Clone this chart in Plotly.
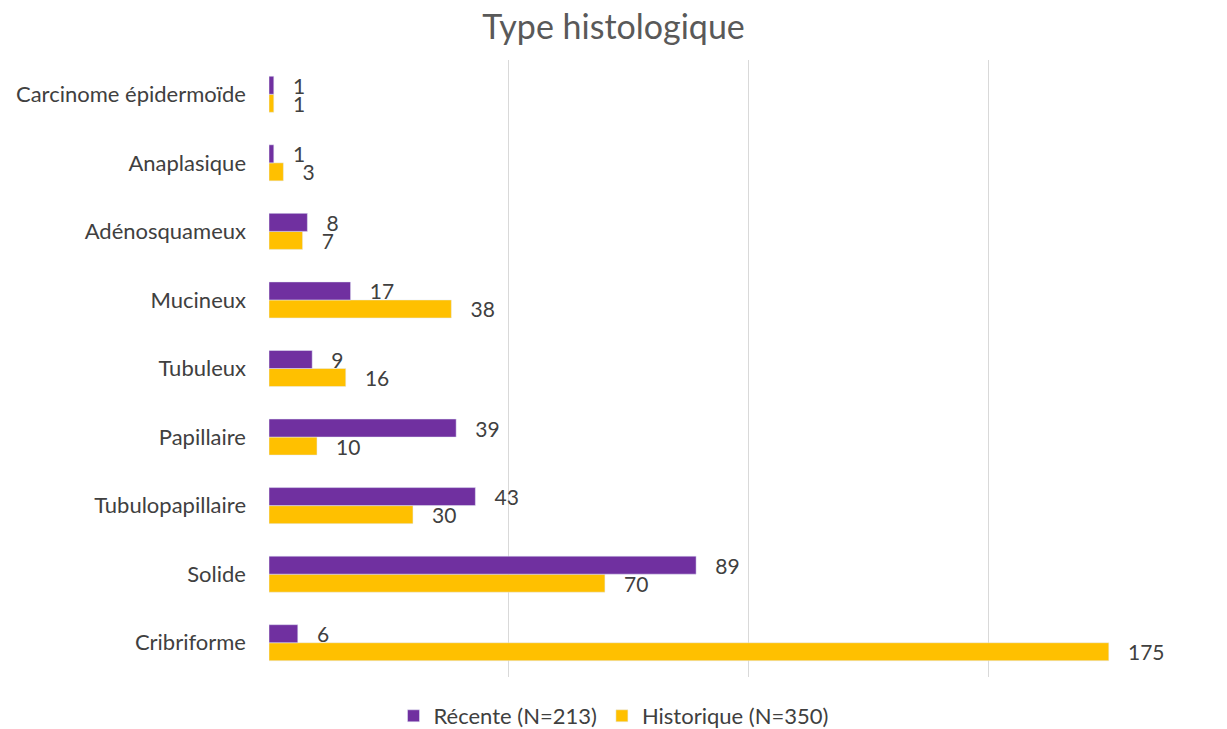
import plotly.graph_objects as go

categories = ["Cribriforme", "Solide", "Tubulopapillaire", "Papillaire", "Tubuleux",
              "Mucineux", "Adénosquameux", "Anaplasique", "Carcinome épidermoïde"]
recente = [6, 89, 43, 39, 9, 17, 8, 1, 1]
historique = [175, 70, 30, 10, 16, 38, 7, 3, 1]
series_names = ["Récente (N=213)", "Historique (N=350)"]
title = "Type histologique"

FONT = "Lato"
fig = go.Figure()
fig.add_trace(go.Bar(
    y=categories, x=historique, orientation="h", name=series_names[1],
    marker=dict(color="#FFC000"), legendrank=2,
    text=historique, texttemplate="   %{x}", textposition="outside",
    constraintext="none",
    textfont=dict(family=FONT, size=21, color="#404040"), cliponaxis=False,
))
fig.add_trace(go.Bar(
    y=categories, x=recente, orientation="h", name=series_names[0],
    marker=dict(color="#7030A0"), legendrank=1,
    text=recente, texttemplate="   %{x}", textposition="outside",
    constraintext="none",
    textfont=dict(family=FONT, size=21, color="#404040"), cliponaxis=False,
))
fig.update_layout(
    width=1227, height=729,
    margin=dict(l=269, r=27, t=60, b=52),
    paper_bgcolor="white", plot_bgcolor="white",
    barmode="group", bargap=0.474, bargroupgap=0,
    title=dict(text=title, x=0.5, xanchor="center", y=0.963, yanchor="middle",
               font=dict(family=FONT, size=34, color="#595959")),
    xaxis=dict(range=[0, 194], tickvals=[0, 50, 100, 150], showticklabels=False,
               showgrid=True, gridcolor="#D9D9D9", gridwidth=1.3, zeroline=False,
               showline=False, fixedrange=True),
    yaxis=dict(showgrid=False, zeroline=False, showline=False, ticks="",
               ticklabelstandoff=22, automargin=False,
               tickfont=dict(family=FONT, size=22, color="#404040")),
    legend=dict(orientation="h", x=0.5, xanchor="center", xref="container",
                y=1 - 716 / 729, yanchor="middle", yref="container",
                font=dict(family=FONT, size=22, color="#404040"),
                itemwidth=30, tracegroupgap=0),
    showlegend=True,
    uniformtext=dict(mode=False),
)
fig.write_html("out.html", config={"displayModeBar": False},
               post_script="document.body.style.margin='0';")
